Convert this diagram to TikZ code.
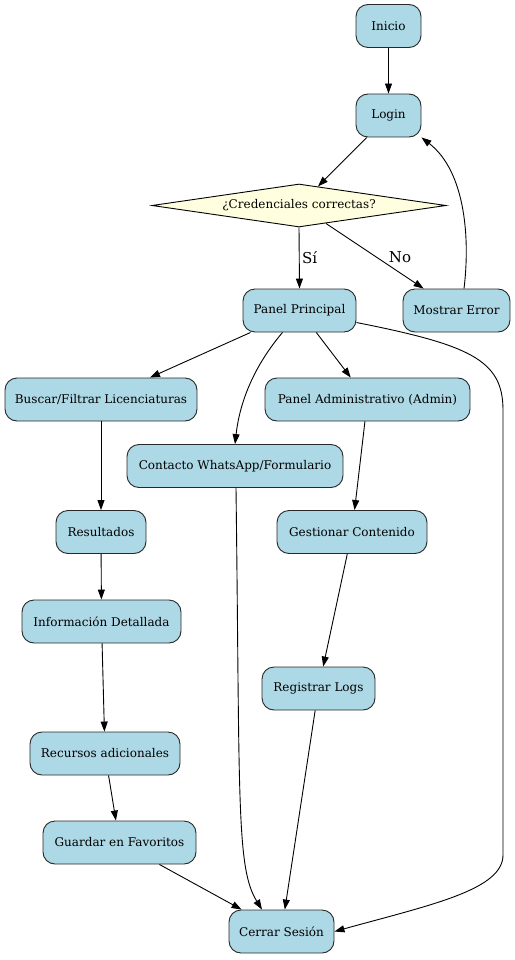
\documentclass[tikz,border=0pt]{standalone}
\usepackage{fontspec}
\setmainfont{DejaVu Serif}
\usetikzlibrary{arrows.meta,shapes.geometric}
\definecolor{boxblue}{RGB}{173,216,230}
\definecolor{diamyellow}{RGB}{255,255,224}
\definecolor{edgegray}{RGB}{40,40,40}
\tikzset{
  box/.style={draw=edgegray, line width=0.9pt, fill=boxblue, rounded corners=12pt,
    minimum height=43pt, inner sep=0pt, font=\fontsize{12}{14}\selectfont},
  decision/.style={draw=black, line width=0.9pt, fill=diamyellow, diamond, aspect=6.8,
    minimum width=294pt, minimum height=43pt, inner sep=0pt, font=\fontsize{12}{14}\selectfont},
  conn/.style={draw=black, line width=0.9pt, -{Triangle[length=10pt,width=7pt]}},
  elabel/.style={font=\fontsize{15}{17}\selectfont}
}
\begin{document}
\begin{tikzpicture}[x=1pt,y=-1pt]
\useasboundingbox (0,0) rectangle (514,960);
\node[box, minimum width=65pt] (inicio) at (388.5,26) {Inicio};
\node[box, minimum width=65pt] (login) at (388.5,115.5) {Login};
\node[decision] (cred) at (299,205.5) {¿Credenciales correctas?};
\node[box, minimum width=113pt] (panel) at (299.5,310.5) {Panel Principal};
\node[box, minimum width=107pt] (error) at (456.5,310.5) {Mostrar Error};
\node[box, minimum width=192pt] (buscar) at (101,399.5) {Buscar/Filtrar Licenciaturas};
\node[box, minimum width=205pt] (admin) at (367.5,399.5) {Panel Administrativo (Admin)};
\node[box, minimum width=216pt] (contacto) at (235,466) {Contacto WhatsApp/Formulario};
\node[box, minimum width=90pt] (result) at (101,532) {Resultados};
\node[box, minimum width=150pt] (gestion) at (352,532) {Gestionar Contenido};
\node[box, minimum width=159pt] (info) at (101.5,621.5) {Información Detallada};
\node[box, minimum width=113pt] (logs) at (318.5,688.5) {Registrar Logs};
\node[box, minimum width=150pt] (recursos) at (105,753.5) {Recursos adicionales};
\node[box, minimum width=153pt] (guardar) at (119.5,842.5) {Guardar en Favoritos};
\node[box, minimum width=105pt] (cerrar) at (281.5,931.5) {Cerrar Sesión};

\draw[conn] (inicio) -- (login);
\draw[conn] (login) -- (cred);
\draw[conn] (cred.south) -- (panel.north) node[elabel, midway, right=-1pt] {Sí};
\draw[conn] (cred) -- (error);
\node[elabel] (nolabel) at (400,257) {No};
\draw[conn] (error.north) ++(7.5,0) coordinate (errtop)
  (errtop) .. controls (470,240) and (466,172) .. (login.south east);
\draw[conn] (panel) -- (buscar);
\draw[conn] (panel.south) ++(-17,0) coordinate (pc1)
  (pc1) .. controls (255,365) and (240,400) .. (contacto.north);
\draw[conn] (panel) -- (admin);
\draw[conn] (panel.east) ++(0,12) coordinate (pe1)
  (pe1) .. controls (470,345) and (503,360) .. (503,410) -- (503,855)
  .. controls (503,890) and (430,905) .. (cerrar.east);
\draw[conn] (buscar) -- (result);
\draw[conn] (admin) -- (gestion);
\coordinate (cin) at ([xshift=-19.5pt]cerrar.north);
\draw[conn] (contacto.south) ++(1,0) coordinate (cs1)
  (cs1) .. controls (240,800) and (236,868) .. (cin);
\draw[conn] (result) -- (info);
\draw[conn] (gestion) -- (logs);
\draw[conn] (info) -- (recursos);
\draw[conn] (logs) -- (cerrar);
\draw[conn] (recursos) -- (guardar);
\draw[conn] (guardar) -- (cerrar);
\end{tikzpicture}
\end{document}
